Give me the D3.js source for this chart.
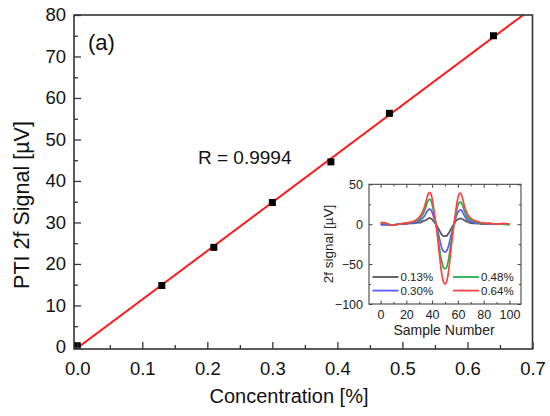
<!DOCTYPE html>
<html><head><meta charset="utf-8">
<script src="https://cdn.jsdelivr.net/npm/d3@7"></script>
<style>body{margin:0;background:#fff}svg{display:block;font-family:"Liberation Sans",Arial,sans-serif}</style>
</head><body>
<svg id="c" width="550" height="416"></svg>
<script>
// ---- main data ----
const concentration = [0, 0.13, 0.21, 0.30, 0.39, 0.48, 0.64];
const signal = [0.3, 14.8, 24.0, 34.8, 44.6, 56.3, 75.0];
const xTicks = [0, 0.1, 0.2, 0.3, 0.4, 0.5, 0.6, 0.7];
const yTicks = [0, 10, 20, 30, 40, 50, 60, 70, 80];
const rText = "R = 0.9994";
// ---- inset data ----
const sampleNo = [0,3,6,10,14,18,22,26,29,31,33,35,36,37,38,39,40,41,42,43,44,45,46,47,48,49,50,51,52,53,54,55,56,57,58,59,60,61,62,63,64,65,67,69,72,76,80,85,90,95,100];
const s013 = [0,0,-1,-1,0,0,1,1,2,2,4,5,6,7,8,7,6,4,2,0,-3,-6,-9,-12,-14,-15,-15,-15,-13,-11,-8,-5,-2,0,3,5,6,7,7,7,6,5,3,2,1,1,0,0,0,0,0];
const s030 = [-1,-1,-1,-1,0,0,1,2,3,5,8,13,16,18,19,18,15,10,5,0,-6,-13,-20,-27,-32,-34,-35,-34,-31,-26,-19,-12,-5,0,6,11,15,17,18,17,14,11,6,4,2,1,1,0,0,0,0];
const s048 = [2,1,0,-1,0,1,2,3,5,8,13,21,26,30,31,30,25,17,8,0,-10,-21,-33,-43,-50,-55,-56,-55,-50,-42,-31,-20,-9,0,9,17,24,27,28,26,22,17,10,6,4,2,1,1,0,0,-1];
const s064 = [2,2,0,-1,0,1,2,4,7,11,17,27,33,38,40,38,32,22,11,0,-13,-28,-43,-57,-67,-73,-75,-73,-67,-56,-42,-27,-13,0,12,24,33,38,39,36,30,23,14,9,5,3,1,1,0,1,0];
const insetSeries = [
  {name:"0.13%", values:s013, color:"#555555"},
  {name:"0.30%", values:s030, color:"#5a5aff"},
  {name:"0.48%", values:s048, color:"#22b04a"},
  {name:"0.64%", values:s064, color:"#ff4040"}
];
const insetXTicks = [0,20,40,60,80,100];
const insetYTicks = [-100,-50,0,50];

const svg = d3.select("#c");
const L=74, R=532.5, T=15, B=349;
const x = d3.scaleLinear().domain([-0.005,0.7]).range([L,R]);
const y = d3.scaleLinear().domain([-0.5,80]).range([B,T]);

svg.append("defs").append("clipPath").attr("id","mclip")
  .append("rect").attr("x",L).attr("y",T).attr("width",R-L).attr("height",B-T);

// linear fit
const n = concentration.length;
const mx = d3.mean(concentration), my = d3.mean(signal);
let sxy=0,sxx=0;
for(let i=0;i<n;i++){sxy+=(concentration[i]-mx)*(signal[i]-my);sxx+=(concentration[i]-mx)**2;}
const slope=sxy/sxx, icpt=my-slope*mx;
const fx = x.domain();
svg.append("line").attr("clip-path","url(#mclip)")
  .attr("x1",x(fx[0])).attr("y1",y(icpt+slope*fx[0]))
  .attr("x2",x(fx[1])).attr("y2",y(icpt+slope*fx[1]))
  .attr("stroke","#ff1a1a").attr("stroke-width",2);

// markers
svg.append("g").attr("clip-path","url(#mclip)").selectAll("rect").data(concentration).join("rect")
  .attr("x",(d)=>x(d)-3.5).attr("y",(d,i)=>y(signal[i])-3.5).attr("width",7).attr("height",7).attr("fill","#000");

// axes (inward ticks)
const xAxis = d3.axisBottom(x).tickValues(xTicks).tickFormat(d3.format(".1f")).tickSizeInner(-7).tickSizeOuter(0).tickPadding(13);
const gx = svg.append("g").attr("transform",`translate(0,${B})`).call(xAxis);
gx.selectAll(".tick text").attr("font-size",18.5).attr("fill","#111");
const xMinor = d3.axisBottom(x).tickValues(d3.range(0.05,0.7,0.1)).tickFormat("").tickSizeInner(-4).tickSizeOuter(0);
svg.append("g").attr("transform",`translate(0,${B})`).call(xMinor);

const yAxis = d3.axisLeft(y).tickValues(yTicks).tickSizeInner(-7).tickSizeOuter(0).tickPadding(8);
const gy = svg.append("g").attr("transform",`translate(${L},0)`).call(yAxis);
gy.selectAll(".tick text").attr("font-size",18.5).attr("fill","#111");
const yMinor = d3.axisLeft(y).tickValues(d3.range(5,80,10)).tickFormat("").tickSizeInner(-4).tickSizeOuter(0);
svg.append("g").attr("transform",`translate(${L},0)`).call(yMinor);
svg.selectAll(".domain").remove();
svg.selectAll(".tick line").attr("stroke","#333").attr("stroke-width",1.3);

svg.append("rect").attr("x",L).attr("y",T).attr("width",R-L).attr("height",B-T)
  .attr("fill","none").attr("stroke","#333").attr("stroke-width",1.6);

svg.append("text").attr("x",289).attr("y",403).attr("text-anchor","middle").attr("font-size",20).attr("fill","#111").text("Concentration [%]");
svg.append("text").attr("transform","translate(29,205) rotate(-90)").attr("text-anchor","middle").attr("font-size",21.5).attr("fill","#111").text("PTI 2f Signal [\u00b5V]");
svg.append("text").attr("x",88).attr("y",50).attr("font-size",22).attr("fill","#111").text("(a)");
svg.append("text").attr("x",198).attr("y",164).attr("font-size",19).attr("fill","#111").text(rText);

// ---- inset ----
const iL=369, iR=521, iT=184.3, iB=304;
const ix = d3.scaleLinear().domain([-9,109]).range([iL,iR]);
const iy = d3.scaleLinear().domain([-100,50]).range([iB,iT]);
const ig = svg.append("g");
ig.append("rect").attr("x",iL).attr("y",iT).attr("width",iR-iL).attr("height",iB-iT).attr("fill","#fff");
svg.select("defs").append("clipPath").attr("id","iclip")
  .append("rect").attr("x",iL).attr("y",iT).attr("width",iR-iL).attr("height",iB-iT);

const line = d3.line().x((d,i)=>ix(sampleNo[i])).y(d=>iy(d)).curve(d3.curveMonotoneX);
ig.append("g").attr("clip-path","url(#iclip)").selectAll("path").data(insetSeries).join("path")
  .attr("d",d=>line(d.values)).attr("fill","none").attr("stroke",d=>d.color).attr("stroke-width",1.7);

const tickStyle = g=>{g.selectAll(".domain").remove();g.selectAll(".tick line").attr("stroke","#444").attr("stroke-width",1);g.selectAll(".tick text").attr("font-size",12.5).attr("fill","#222");};
ig.append("g").attr("transform",`translate(0,${iB})`).call(d3.axisBottom(ix).tickValues(insetXTicks).tickSizeInner(-3.5).tickSizeOuter(0).tickPadding(6)).call(tickStyle);
ig.append("g").attr("transform",`translate(0,${iB})`).call(d3.axisBottom(ix).tickValues(d3.range(10,110,20)).tickFormat("").tickSizeInner(-2).tickSizeOuter(0)).call(tickStyle);
ig.append("g").attr("transform",`translate(0,${iT})`).call(d3.axisTop(ix).tickValues(insetXTicks).tickFormat("").tickSizeInner(-3.5).tickSizeOuter(0)).call(tickStyle);
ig.append("g").attr("transform",`translate(0,${iT})`).call(d3.axisTop(ix).tickValues(d3.range(10,110,20)).tickFormat("").tickSizeInner(-2).tickSizeOuter(0)).call(tickStyle);
ig.append("g").attr("transform",`translate(${iL},0)`).call(d3.axisLeft(iy).tickValues(insetYTicks).tickSizeInner(-3.5).tickSizeOuter(0).tickPadding(6)).call(tickStyle);
ig.append("g").attr("transform",`translate(${iL},0)`).call(d3.axisLeft(iy).tickValues([-75,-25,25]).tickFormat("").tickSizeInner(-2).tickSizeOuter(0)).call(tickStyle);
ig.append("g").attr("transform",`translate(${iR},0)`).call(d3.axisRight(iy).tickValues(insetYTicks).tickFormat("").tickSizeInner(-3.5).tickSizeOuter(0)).call(tickStyle);
ig.append("g").attr("transform",`translate(${iR},0)`).call(d3.axisRight(iy).tickValues([-75,-25,25]).tickFormat("").tickSizeInner(-2).tickSizeOuter(0)).call(tickStyle);
ig.append("rect").attr("x",iL).attr("y",iT).attr("width",iR-iL).attr("height",iB-iT).attr("fill","none").attr("stroke","#444").attr("stroke-width",1.1);

ig.append("text").attr("x",(iL+iR)/2-1).attr("y",335).attr("text-anchor","middle").attr("font-size",14).attr("fill","#222").text("Sample Number");
ig.append("text").attr("transform",`translate(333,244) rotate(-90)`).attr("text-anchor","middle").attr("font-size",13.5).attr("fill","#222").text("2f signal [\u00b5V]");

// legend
const legPos = [[372.5,277],[372.5,290.6],[453,277],[453,290.6]];
insetSeries.forEach((s,i)=>{
  const [lx,ly]=legPos[i];
  ig.append("line").attr("x1",lx).attr("x2",lx+26).attr("y1",ly).attr("y2",ly).attr("stroke",s.color).attr("stroke-width",1.8);
  ig.append("text").attr("x",lx+28).attr("y",ly+4.2).attr("font-size",11.5).attr("fill","#222").text(s.name);
});
</script>
</body></html>
